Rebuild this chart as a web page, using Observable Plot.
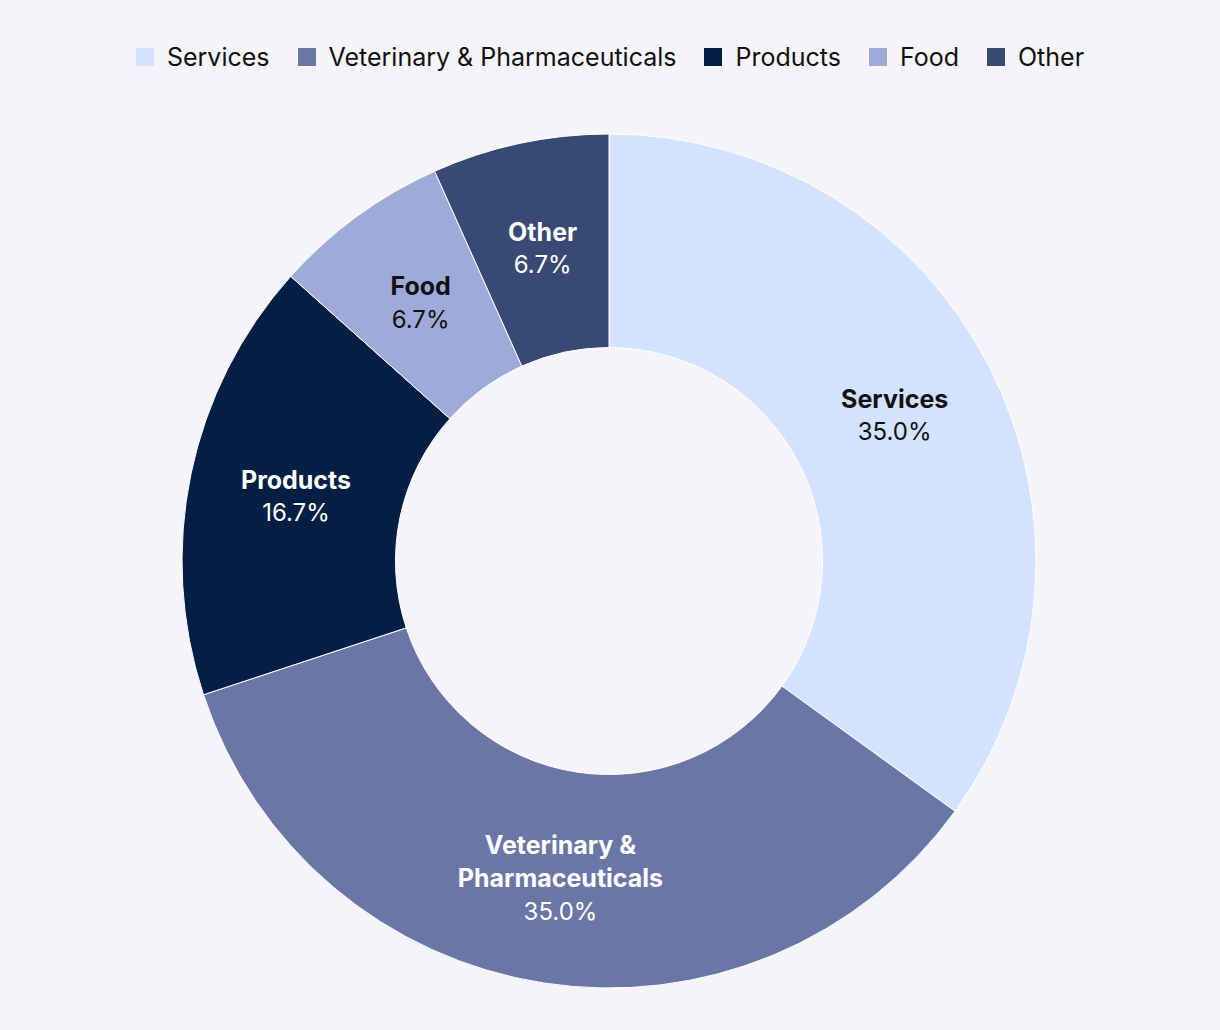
<!DOCTYPE html>
<html>
<head>
<meta charset="utf-8">
<script src="https://cdn.jsdelivr.net/npm/d3@7"></script>
<script src="https://cdn.jsdelivr.net/npm/@observablehq/plot@0.6"></script>
<style>
  html, body { margin: 0; padding: 0; background: #f5f4f9; }
  body { width: 1220px; height: 1030px; overflow: hidden; font-family: Inter, "DejaVu Sans", sans-serif; }
  #legend { height: 100px; display: flex; justify-content: center; align-items: flex-start; gap: 28px; box-sizing: border-box; }
  #legend .item { display: flex; align-items: center; font-size: 25px; color: #111; margin-top: 43px; height: 28px; }
  #legend .sw { width: 18px; height: 18px; margin-right: 13px; }
  #chart svg { display: block; }
</style>
</head>
<body>
<div id="legend"></div>
<div id="chart"></div>
<script>
const categories = ["Services", "Veterinary & Pharmaceuticals", "Products", "Food", "Other"];
const labelLines = ["Services", "Veterinary &\nPharmaceuticals", "Products", "Food", "Other"];
const shares = [35.0, 35.0, 16.7, 6.7, 6.7];
const colors = ["#d3e2fe", "#6a77a6", "#031f43", "#9eabd9", "#384a73"];
const textColors = ["#111111", "#ffffff", "#ffffff", "#111111", "#ffffff"];

const innerRatio = 0.5;

const data = categories.map((c, i) => ({
  category: c, label: labelLines[i], share: shares[i],
  color: colors[i], textColor: textColors[i],
  lines: labelLines[i].split("\n").length
}));

const arcs = d3.pie().sort(null).value(d => d.share)(data);
arcs.forEach(a => {
  const mid = (a.startAngle + a.endAngle) / 2;
  const rm = (1 + innerRatio) / 2;
  a.data.cx = rm * Math.sin(mid);
  a.data.cy = rm * Math.cos(mid);
  a.data.pct = a.data.share.toFixed(1) + "%";
});

// legend
const legend = d3.select("#legend");
data.forEach(d => {
  const it = legend.append("div").attr("class", "item");
  it.append("div").attr("class", "sw").style("background", d.color);
  it.append("span").text(d.category);
});

const slices = (index, scales) => {
  const cx = scales.x(0), cy = scales.y(0);
  const R = scales.x(1) - cx, r = R * innerRatio;
  const arc = d3.arc().innerRadius(r).outerRadius(R);
  const g = d3.create("svg:g").attr("transform", `translate(${cx},${cy})`);
  g.selectAll("path").data(arcs).join("path")
    .attr("d", arc)
    .attr("fill", d => d.data.color)
    .attr("stroke", "#ffffff")
    .attr("stroke-width", 1);
  return g.node();
};

const font = "Inter, 'DejaVu Sans', sans-serif";

const chart = Plot.plot({
  width: 1220,
  height: 930,
  style: { background: "#f5f4f9", fontFamily: font },
  x: { domain: [-1, 1], range: [182, 1036], axis: null },
  y: { domain: [-1, 1], range: [888, 34], axis: null },
  marks: [
    slices,
    Plot.text(data, {
      x: "cx", y: "cy", text: "label", fill: "textColor",
      fontSize: 25, fontWeight: 700, lineAnchor: "middle",
      lineHeight: 33 / 25, dy: -18
    }),
    Plot.text(data.filter(d => d.lines === 1), {
      x: "cx", y: "cy", text: "pct", fill: "textColor",
      fontSize: 24, fontWeight: 400, dy: 17
    }),
    Plot.text(data.filter(d => d.lines === 2), {
      x: "cx", y: "cy", text: "pct", fill: "textColor",
      fontSize: 24, fontWeight: 400, dy: 34
    })
  ]
});
document.getElementById("chart").appendChild(chart);
</script>
</body>
</html>
